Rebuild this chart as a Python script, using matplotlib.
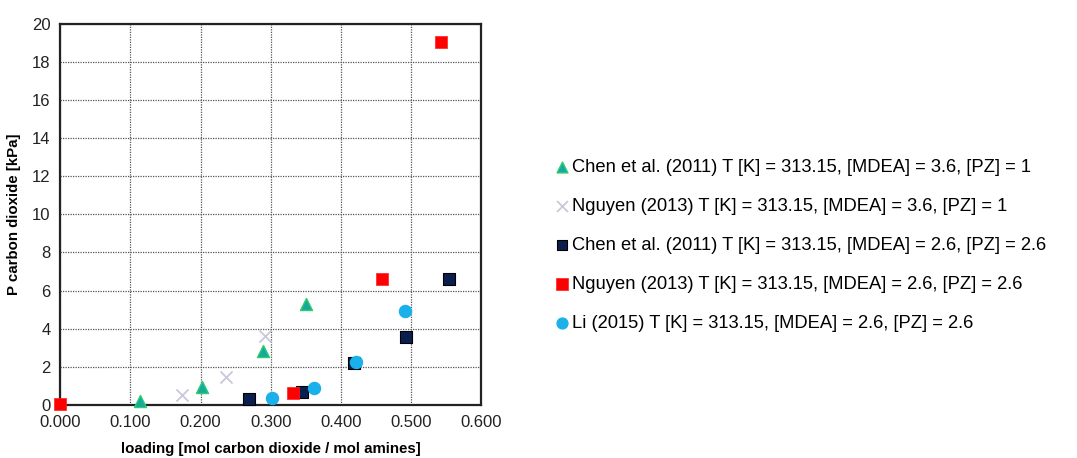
import matplotlib
matplotlib.use("Agg")
import matplotlib.pyplot as plt

plt.rcParams['font.family'] = ['Liberation Sans', 'DejaVu Sans']

# data
chen36_x = [0.113, 0.202, 0.289, 0.350]
chen36_y = [0.20, 0.95, 2.83, 5.29]

nguyen36_x = [0.174, 0.236, 0.292]
nguyen36_y = [0.52, 1.45, 3.59]

chen26_x = [0.269, 0.345, 0.419, 0.493, 0.554]
chen26_y = [0.31, 0.70, 2.22, 3.55, 6.60]

nguyen26_x = [0.000, 0.331, 0.459, 0.542]
nguyen26_y = [0.04, 0.61, 6.63, 19.07]

li_x = [0.301, 0.362, 0.421, 0.491]
li_y = [0.38, 0.91, 2.27, 4.95]

labels = [
    'Chen et al. (2011) T [K] = 313.15, [MDEA] = 3.6, [PZ] = 1',
    'Nguyen (2013) T [K] = 313.15, [MDEA] = 3.6, [PZ] = 1',
    'Chen et al. (2011) T [K] = 313.15, [MDEA] = 2.6, [PZ] = 2.6',
    'Nguyen (2013) T [K] = 313.15, [MDEA] = 2.6, [PZ] = 2.6',
    'Li (2015) T [K] = 313.15, [MDEA] = 2.6, [PZ] = 2.6',
]

fig = plt.figure(figsize=(10.77, 4.58), dpi=100)
ax = fig.add_axes([0.056, 0.116, 0.391, 0.832])

kw = dict(zorder=3, clip_on=False)
ax.scatter(chen36_x, chen36_y, marker='^', s=75, color='#17a89e', edgecolors='#2ecc71', linewidths=1, label=labels[0], **kw)
ax.scatter(nguyen36_x, nguyen36_y, marker='x', s=75, color='#c8c8dc', linewidths=1.3, label=labels[1], **kw)
ax.scatter(chen26_x, chen26_y, marker='s', s=75, color='#0a1f4d', edgecolors='#000000', linewidths=0.8, label=labels[2], **kw)
ax.scatter(nguyen26_x, nguyen26_y, marker='s', s=85, color='#ff0000', edgecolors='#ff2020', linewidths=0.5, label=labels[3], **kw)
ax.scatter(li_x, li_y, marker='o', s=75, color='#1ab0ea', edgecolors='#1ab0ea', label=labels[4], **kw)

ax.set_xlim(0, 0.6)
ax.set_ylim(0, 20)
ax.set_xticks([0, 0.1, 0.2, 0.3, 0.4, 0.5, 0.6])
ax.set_xticklabels(['0.000', '0.100', '0.200', '0.300', '0.400', '0.500', '0.600'])
ax.set_yticks(range(0, 21, 2))
ax.tick_params(length=0, labelsize=12, pad=7, colors='#222222')
ax.grid(True, color='#555555', linestyle=(0, (1, 1)), linewidth=0.9)
ax.set_axisbelow(True)
for s in ax.spines.values():
    s.set_linewidth(1.6)
    s.set_color('#222222')

ax.set_xlabel('loading [mol carbon dioxide / mol amines]', fontsize=10.8, fontweight='bold', labelpad=9)
ax.set_ylabel('P carbon dioxide [kPa]', fontsize=10.8, fontweight='bold', labelpad=8)

fig.legend(loc='center left', bbox_to_anchor=(0.506, 0.465), frameon=False, fontsize=13.2,
           handletextpad=0.0, labelspacing=1.2, handlelength=1.1, markerscale=0.9, borderaxespad=0)

fig.savefig('out.png', dpi=100)
